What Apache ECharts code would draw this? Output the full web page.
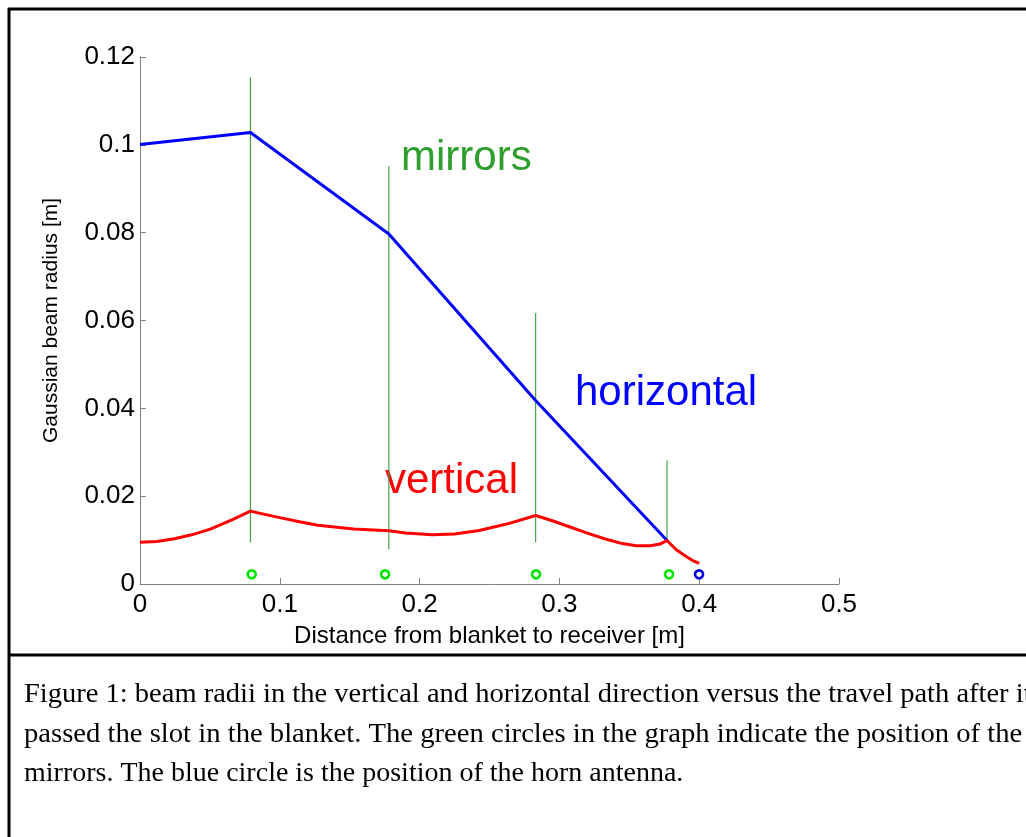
<!DOCTYPE html>
<html>
<head>
<meta charset="utf-8">
<script src="https://cdn.jsdelivr.net/npm/echarts@6/dist/echarts.min.js"></script>
<style>
  html, body { margin: 0; padding: 0; background: #fff; }
  #chart { width: 1026px; height: 837px; }
</style>
</head>
<body>
<div id="chart"></div>
<script>
// horizontal beam radius (blue)
const horizX = [0, 0.079, 0.178, 0.283, 0.377]
const horizY = [0.1001, 0.1028, 0.0797, 0.0418, 0.0099]

// vertical beam radius (red)
const vertX = [0, 0.012, 0.0246, 0.037, 0.0503, 0.0657, 0.079, 0.09, 0.1016, 0.115, 0.1272, 0.1528, 0.178,
  0.19, 0.2093, 0.225, 0.2426, 0.263, 0.283, 0.295, 0.3066, 0.32, 0.3323, 0.345, 0.355, 0.365, 0.372, 0.377,
  0.3836, 0.391, 0.395, 0.400]
const vertY = [0.0095, 0.0097, 0.0103, 0.0112, 0.0125, 0.0146, 0.0166, 0.0158, 0.0150, 0.0141, 0.0134, 0.0125, 0.0121,
  0.0116, 0.0112, 0.0114, 0.0122, 0.0137, 0.0156, 0.0144, 0.0131, 0.0116, 0.0103, 0.0092, 0.0087, 0.0087, 0.0091, 0.0099,
  0.0078, 0.0062, 0.0054, 0.0047]

// mirror marker lines
const mirrorX = [0.079, 0.178, 0.283, 0.377]
const mirrorTop = [0.1154, 0.0952, 0.0617, 0.0281]
const mirrorBottom = [0.0095, 0.0079, 0.0095, 0.0099]

// mirror circles (green) and horn antenna (blue)
const mirrorCircX = [0.0799, 0.1753, 0.2833, 0.3784]
const mirrorCircY = [0.0022, 0.0022, 0.0022, 0.0022]
const hornX = [0.3999]
const hornY = [0.0022]

const xTicks = [0, 0.5, 0.1]
const yTicks = [0, 0.12, 0.02]

const captionLines = [
  'Figure 1: beam radii in the vertical and horizontal direction versus the travel path after it',
  'passed the slot in the blanket. The green circles in the graph indicate the position of the',
  'mirrors. The blue circle is the position of the horn antenna.'
]
// justified lines are stretched a little to the column width
const captionStretch = [1.018, 1.023, 1]

const zip = (xs, ys) => xs.map((x, i) => [x, ys[i]])

const chart = echarts.init(document.getElementById('chart'))

const axisGray = '#808080'
const sans = '"Liberation Sans", Arial, sans-serif'

chart.setOption({
  backgroundColor: '#fff',
  animation: false,
  grid: { left: 140, right: 187, top: 57, bottom: 253 },
  xAxis: {
    type: 'value',
    min: xTicks[0], max: xTicks[1], interval: xTicks[2],
    name: 'Distance from blanket to receiver [m]',
    nameLocation: 'middle',
    nameGap: 40,
    nameTextStyle: { color: '#000', fontSize: 24, fontFamily: sans },
    axisLine: { lineStyle: { color: axisGray, width: 1 } },
    axisTick: { inside: true, length: 6, lineStyle: { color: axisGray } },
    axisLabel: { color: '#000', fontSize: 26, fontFamily: sans, margin: 8 },
    splitLine: { show: false }
  },
  yAxis: {
    type: 'value',
    min: yTicks[0], max: yTicks[1], interval: yTicks[2],
    name: 'Gaussian beam radius [m]',
    nameLocation: 'middle',
    nameRotate: 90,
    nameGap: 78,
    nameTextStyle: { color: '#000', fontSize: 21, fontFamily: sans },
    axisLine: { show: true, lineStyle: { color: axisGray, width: 1 } },
    axisTick: { show: true, inside: true, length: 6, lineStyle: { color: axisGray } },
    axisLabel: { color: '#000', fontSize: 26, fontFamily: sans, margin: 5 },
    splitLine: { show: false }
  },
  series: [
    {
      type: 'custom',
      name: 'mirrors',
      data: mirrorX.map((x, i) => [x, mirrorBottom[i], mirrorTop[i]]),
      renderItem: (params, api) => {
        const p0 = api.coord([api.value(0), api.value(1)])
        const p1 = api.coord([api.value(0), api.value(2)])
        return {
          type: 'line',
          shape: { x1: p0[0], y1: p0[1], x2: p1[0], y2: p1[1] },
          style: { stroke: '#46a346', lineWidth: 1.2 }
        }
      },
      z: 1
    },
    {
      type: 'line',
      name: 'horizontal',
      data: zip(horizX, horizY),
      showSymbol: false,
      lineStyle: { color: '#0000ff', width: 3 },
      z: 3
    },
    {
      type: 'line',
      name: 'vertical',
      data: zip(vertX, vertY),
      showSymbol: false,
      lineStyle: { color: '#ff0000', width: 3, join: 'round' },
      z: 4
    },
    {
      type: 'scatter',
      data: zip(mirrorCircX, mirrorCircY),
      symbol: 'circle',
      symbolSize: 8,
      itemStyle: { color: '#fff', borderColor: '#00e600', borderWidth: 2.6, opacity: 1 },
      z: 5
    },
    {
      type: 'scatter',
      data: zip(hornX, hornY),
      symbol: 'circle',
      symbolSize: 8,
      itemStyle: { color: '#fff', borderColor: '#0000e0', borderWidth: 2.6, opacity: 1 },
      z: 5
    }
  ],
  graphic: [
    // frame
    { type: 'line', shape: { x1: 8, y1: 9, x2: 1026, y2: 9 }, style: { stroke: '#000', lineWidth: 3 } },
    { type: 'line', shape: { x1: 9, y1: 8, x2: 9, y2: 837 }, style: { stroke: '#000', lineWidth: 3 } },
    { type: 'line', shape: { x1: 8, y1: 655, x2: 1026, y2: 655 }, style: { stroke: '#000', lineWidth: 3 } },
    // annotations
    { type: 'text', left: 401, top: 137, style: { text: 'mirrors', font: '42px ' + sans, fill: '#2e9e2e' } },
    { type: 'text', left: 575, top: 372, style: { text: 'horizontal', font: '42px ' + sans, fill: '#0000ff' } },
    { type: 'text', left: 385, top: 460, style: { text: 'vertical', font: '42px ' + sans, fill: '#ff0000' } },
    // caption
    ...captionLines.map((t, i) => ({
      type: 'text',
      x: 24,
      y: 681 + i * 39.5,
      scaleX: captionStretch[i],
      style: { text: t, font: '28px "Liberation Serif", "Times New Roman", serif', fill: '#000' }
    }))
  ]
})
</script>
</body>
</html>
